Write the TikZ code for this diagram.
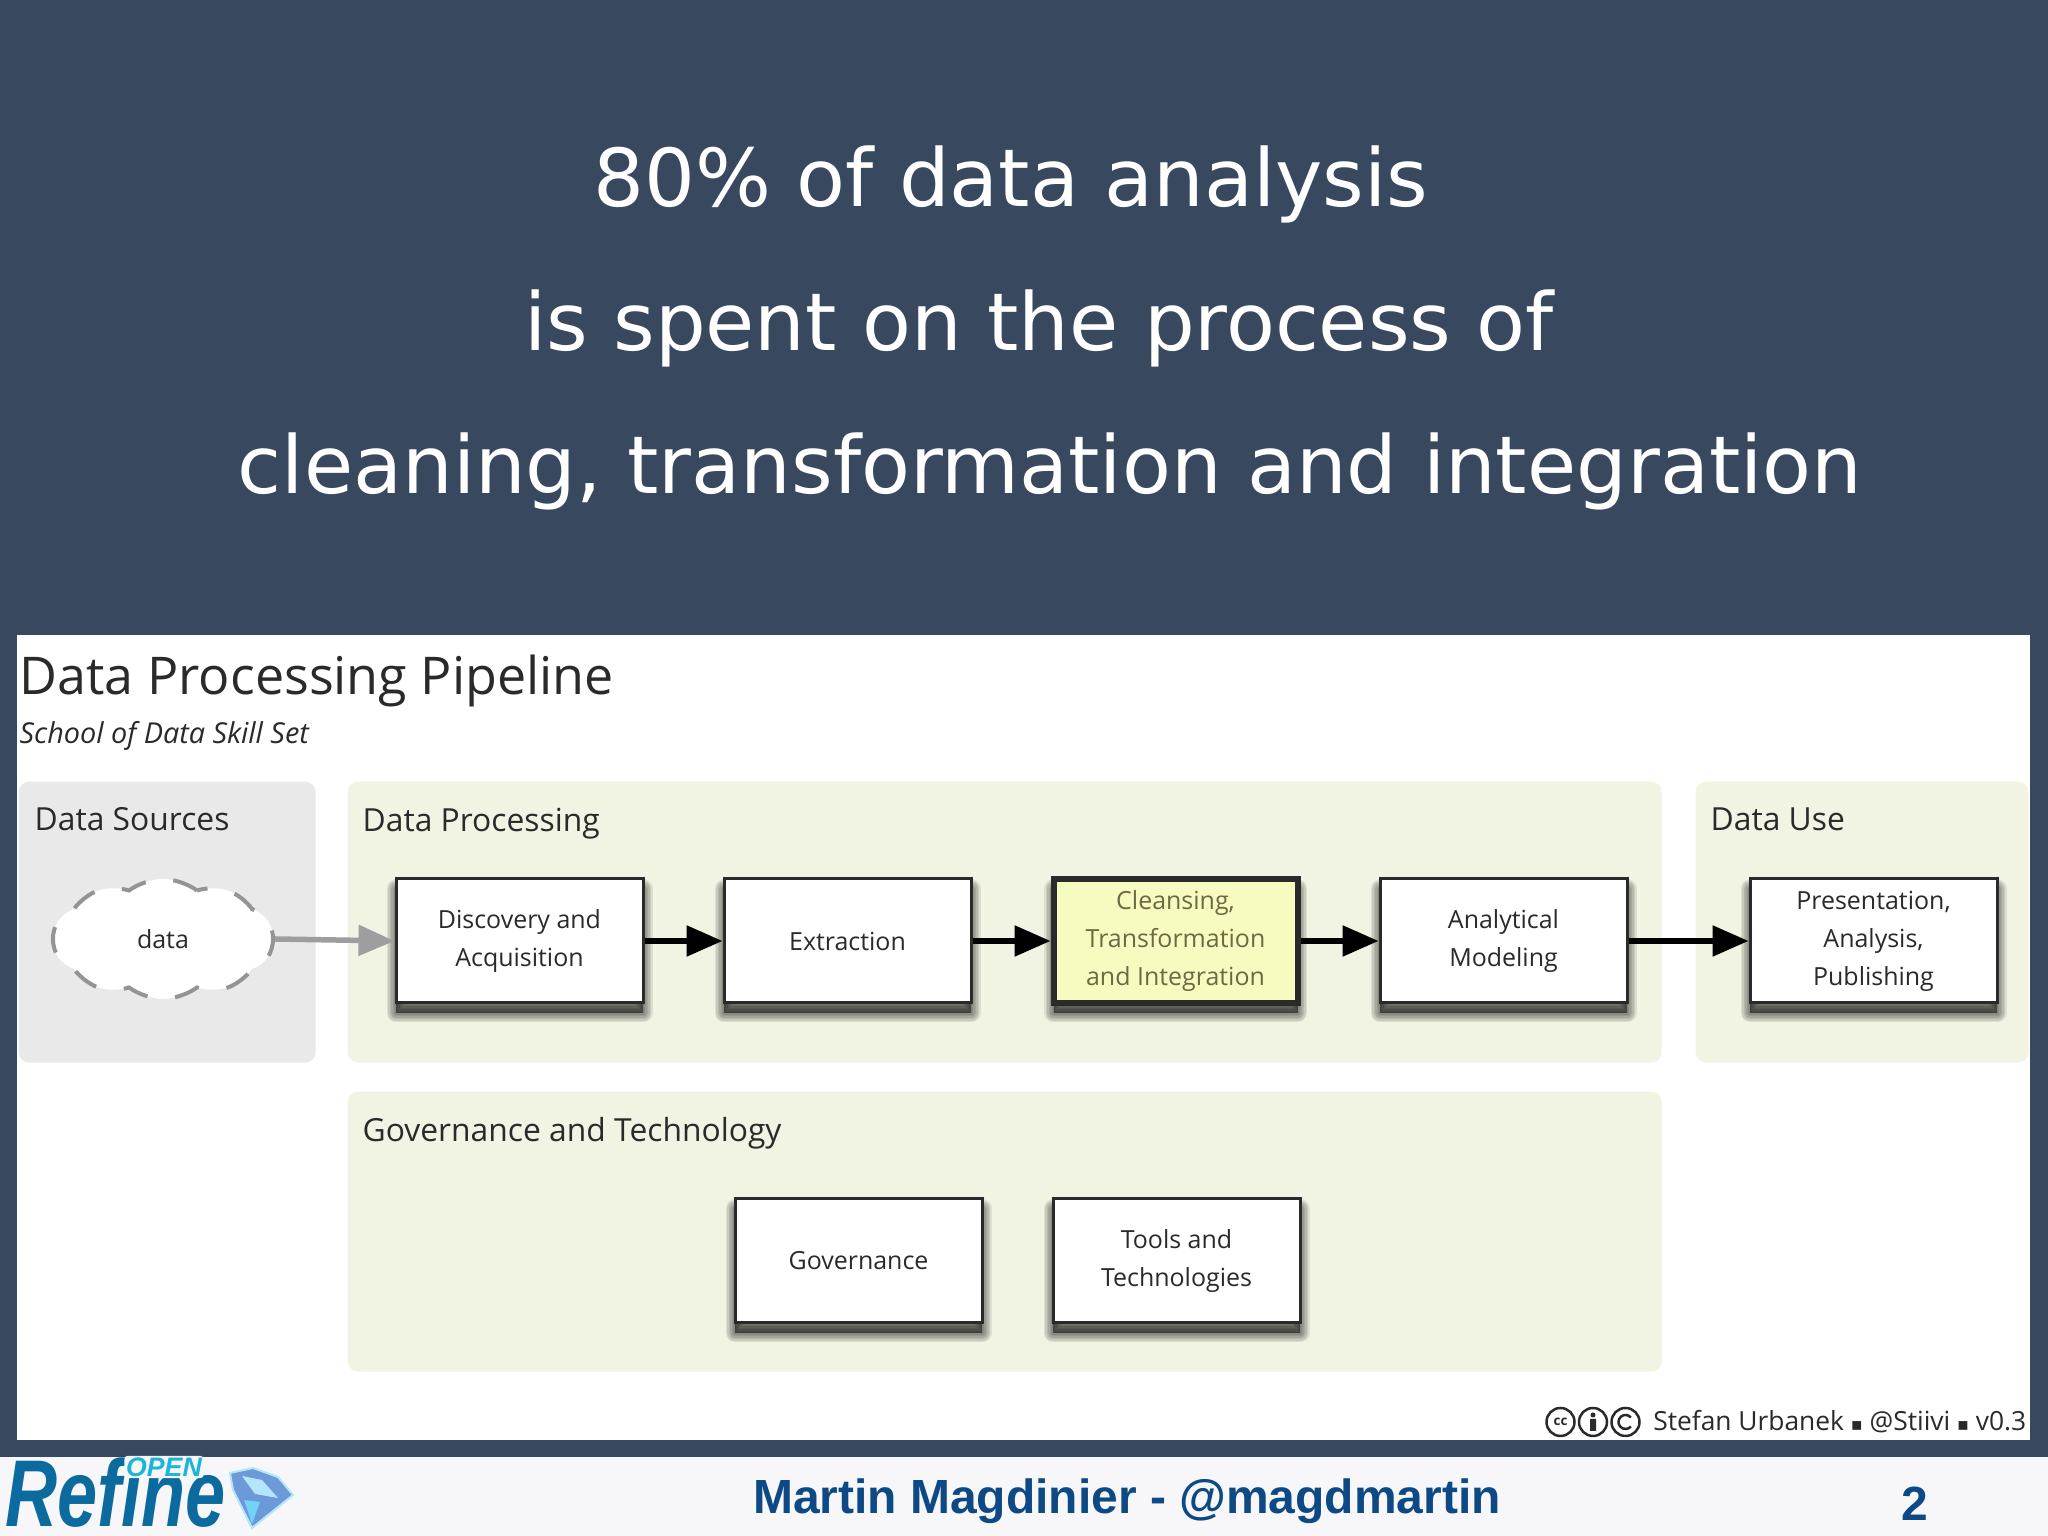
\documentclass[tikz,border=0pt]{standalone}
\usepackage{fontspec}
\setmainfont{Open Sans}
\newfontfamily\slidefont{DejaVu Sans}
\newfontfamily\footfont{Liberation Sans}
\newfontfamily\logofont[FakeStretch=0.76]{Liberation Sans}
\usetikzlibrary{shapes.symbols,arrows.meta,positioning,calc}
\definecolor{slidebg}{HTML}{38485F}
\definecolor{footbg}{HTML}{F7F7FA}
\definecolor{footblue}{HTML}{0D4A85}
\definecolor{logoblue}{HTML}{0B6A9E}
\definecolor{logocyan}{HTML}{1BB5DC}
\definecolor{greypanel}{HTML}{E9E9E9}
\definecolor{greenpanel}{HTML}{F1F4E3}
\definecolor{highlight}{HTML}{F8FBC0}
\definecolor{ink}{HTML}{2A2A2A}
\tikzset{
  headline/.style={anchor=base,text=white,inner sep=0pt,
    font=\slidefont\fontsize{22.75}{26}\selectfont},
  panel/.style={anchor=north west,rounded corners=3pt,inner sep=0pt,
    minimum height=2.81cm},
  panelhead/.style={inner sep=0pt,text=ink,font=\fontsize{9.05}{11}\selectfont},
  softlayer/.style={preaction={draw=black,fill=black,line width=#1,line join=round,
    opacity=0.085,transform canvas={yshift=-0.10cm}}},
  softshadow/.style={softlayer=0.19cm,softlayer=0.16cm,softlayer=0.13cm,softlayer=0.10cm,
    softlayer=0.07cm,softlayer=0.04cm,softlayer=0.01cm},
  stage/.style={softshadow,draw=ink,line width=0.03cm,fill=white,inner sep=0pt,align=center,
    minimum width=2.47cm,minimum height=1.24cm,text=ink,
    font=\fontsize{7.1}{10.8}\selectfont},
  flow/.style={-{Triangle[length=0.36cm,width=0.30cm]},line width=0.055cm,black},
  ccmark/.style={circle,draw=ink,line width=0.025cm,inner sep=0pt,minimum size=0.28cm,
    text=ink,font=\bfseries\fontsize{3.8}{4}\selectfont}
}
\begin{document}
\begin{tikzpicture}
  \useasboundingbox (0,0) rectangle (20.48,15.36);
  \fill[slidebg] (0,0) rectangle (20.48,15.36);
  \fill[white] (0.17,0.96) rectangle (20.30,9.01);
  \fill[footbg] (0,0) rectangle (20.48,0.79);
  \node[headline] (line1) at (10.11,13.29) {80\% of data analysis};
  \node[headline] (line2) at (10.39,11.85) {is spent on the process of};
  \node[headline] (line3) at (10.50,10.42) {cleaning, transformation and integration};
  \node[anchor=north west,inner sep=0pt,text=ink,font=\fontsize{14.8}{17}\selectfont]
    (pipeline) at (0.19,8.82) {Data Processing Pipeline};
  \node[anchor=north west,inner sep=0pt,text=ink,font=\itshape\fontsize{8.2}{10}\selectfont]
    (skillset) at (0.19,8.15) {School of Data Skill Set};
  \node[panel,fill=greypanel,minimum width=2.97cm] (sources) at (0.18,7.55) {};
  \node[panel,fill=greenpanel,minimum width=13.14cm] (processing) at (3.47,7.55) {};
  \node[panel,fill=greenpanel,minimum width=3.33cm] (datause) at (16.95,7.55) {};
  \node[panel,fill=greenpanel,minimum width=13.14cm,minimum height=2.80cm] (governancepanel) at (3.47,4.45) {};
  \node[panelhead,below right=0.26cm and 0.16cm of sources.north west] (sourceshead) {Data Sources};
  \node[panelhead,below right=0.26cm and 0.15cm of processing.north west] (processinghead) {Data Processing};
  \node[panelhead,below right=0.26cm and 0.15cm of datause.north west] (usehead) {Data Use};
  \node[panelhead,below right=0.26cm and 0.15cm of governancepanel.north west] (governancehead) {Governance and Technology};
  \node[cloud,cloud puffs=10,cloud puff arc=75,aspect=1.9,draw=black!42,dash pattern=on 0.26cm off 0.28cm,
    line width=0.04cm,fill=white,inner sep=0pt,minimum width=2.2cm,minimum height=1.2cm,
    text=ink,font=\fontsize{7.1}{10}\selectfont] (data) at (1.63,5.97) {data};
  \node[stage] (discovery) at (5.195,5.95) {Discovery and\\Acquisition};
  \node[stage,right=0.78cm of discovery] (extraction) {Extraction};
  \node[stage,right=0.78cm of extraction,fill=highlight,line width=0.06cm,
    minimum width=2.44cm,text=black!45!olive!70!gray] (cleansing)
    {Cleansing,\\Transformation\\and Integration};
  \node[stage,right=0.78cm of cleansing] (modeling) {Analytical\\Modeling};
  \node[stage,right=1.20cm of modeling] (publishing) {Presentation,\\Analysis,\\Publishing};
  \node[stage] (governance) at (8.585,2.75) {Governance};
  \node[stage,right=0.68cm of governance] (tools) {Tools and\\Technologies};
  \draw[flow,black!38] (data.east) -- (discovery.west);
  \draw[flow] (discovery) -- (extraction);
  \draw[flow] (extraction) -- (cleansing);
  \draw[flow] (cleansing) -- (modeling);
  \draw[flow] (modeling) -- (publishing);
  \node[ccmark] (ccby) at (15.93,1.14) {};
  \node[ccmark,left=0.02cm of ccby] (cclicence) {cc};
  \node[ccmark,right=0.02cm of ccby] (ccshare) {};
  \fill[ink] (15.93,1.21) circle (0.025) (15.90,1.17) rectangle (15.96,1.05);
  \draw[ink,line width=0.025cm] (ccshare.center) ++(40:0.07) arc (40:320:0.07);
  \node[anchor=east,inner sep=0pt,text=ink,font=\fontsize{7.5}{9}\selectfont] (credit) at (20.27,1.14)
    {Stefan Urbanek {\slidefont\fontsize{5}{9}\selectfont ▪} @Stiivi {\slidefont\fontsize{5}{9}\selectfont ▪} v0.3};
  \node[anchor=base west,inner sep=0pt,text=logoblue,
    font=\logofont\bfseries\itshape\fontsize{27}{30}\selectfont] (refine) at (0.05,0.09) {Refine};
  \node[anchor=center,inner sep=0.5pt,rounded corners=1pt,fill=footbg,text=logocyan,
    font=\footfont\bfseries\itshape\fontsize{7.6}{9}\selectfont] (openmark) at (1.64,0.69) {OPEN};
  \fill[cyan!50!blue!60!white,draw=white!70!cyan,line width=0.02cm] (2.30,0.63) -- (2.53,0.68) -- (2.78,0.59)
    -- (2.93,0.41) -- (2.52,0.08) -- (2.33,0.46) -- cycle;
  \fill[white!70!cyan] (2.42,0.60) -- (2.62,0.56) -- (2.78,0.38) -- (2.55,0.42) -- cycle;
  \fill[white!45!cyan] (2.44,0.36) -- (2.52,0.12) -- (2.60,0.34) -- cycle;
  \node[inner sep=0pt,text=footblue,font=\footfont\bfseries\fontsize{13.65}{16}\selectfont] (speaker)
    at (11.27,0.35) {Martin Magdinier - @magdmartin};
  \node[inner sep=0pt,text=footblue,font=\footfont\bfseries\fontsize{13.65}{16}\selectfont] (pagenum)
    at (19.15,0.32) {2};
\end{tikzpicture}
\end{document}
